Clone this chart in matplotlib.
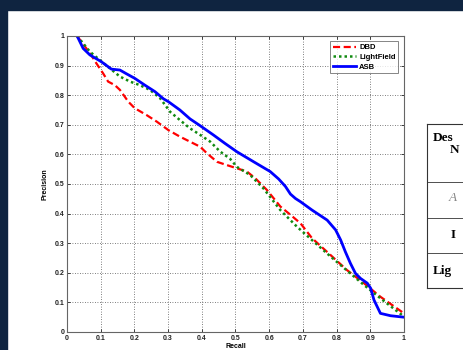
import matplotlib

matplotlib.use("Agg")
import matplotlib.pyplot as plt
from matplotlib.patches import Rectangle
from matplotlib.lines import Line2D

# precision / recall curves
dbd_recall = [0.03, 0.068, 0.087, 0.107, 0.122, 0.142, 0.157, 0.182, 0.201, 0.236, 0.266,
              0.301, 0.335, 0.365, 0.395, 0.415, 0.445, 0.474, 0.504, 0.534, 0.559, 0.593,
              0.633, 0.663, 0.693, 0.727, 0.782, 0.831, 0.881, 0.930, 1.0]
dbd_precision = [1.0, 0.942, 0.908, 0.874, 0.846, 0.834, 0.818, 0.778, 0.756, 0.733, 0.711,
                 0.682, 0.660, 0.643, 0.626, 0.604, 0.575, 0.564, 0.553, 0.542, 0.519, 0.480,
                 0.424, 0.396, 0.367, 0.317, 0.260, 0.209, 0.165, 0.119, 0.063]

lf_recall = [0.03, 0.068, 0.097, 0.127, 0.157, 0.187, 0.216, 0.246, 0.276, 0.306, 0.335,
             0.365, 0.395, 0.425, 0.454, 0.484, 0.504, 0.544, 0.583, 0.633, 0.683, 0.782,
             0.881, 0.930, 1.0]
lf_precision = [1.0, 0.947, 0.919, 0.891, 0.863, 0.846, 0.834, 0.818, 0.790, 0.744, 0.716,
                0.688, 0.666, 0.643, 0.610, 0.585, 0.558, 0.530, 0.485, 0.412, 0.355, 0.255,
                0.159, 0.114, 0.052]

asb_recall = [0.03, 0.048, 0.068, 0.102, 0.132, 0.157, 0.177, 0.201, 0.231, 0.261, 0.286,
              0.301, 0.335, 0.365, 0.395, 0.434, 0.469, 0.504, 0.554, 0.603, 0.628, 0.648,
              0.663, 0.678, 0.693, 0.727, 0.772, 0.797, 0.812, 0.826, 0.841, 0.856, 0.871,
              0.891, 0.901, 0.911, 0.930, 0.960, 1.0]
asb_precision = [1.0, 0.958, 0.936, 0.913, 0.888, 0.885, 0.872, 0.857, 0.834, 0.812, 0.788,
                 0.778, 0.750, 0.720, 0.697, 0.666, 0.637, 0.609, 0.575, 0.542, 0.517, 0.492,
                 0.466, 0.451, 0.440, 0.412, 0.378, 0.345, 0.311, 0.271, 0.232, 0.198, 0.181,
                 0.165, 0.148, 0.108, 0.063, 0.055, 0.050]

ticks = [0, 0.1, 0.2, 0.3, 0.4, 0.5, 0.6, 0.7, 0.8, 0.9, 1]
tick_labels = ["0", "0.1", "0.2", "0.3", "0.4", "0.5", "0.6", "0.7", "0.8", "0.9", "1"]

# what is visible of the slide table cut off by the right edge
table_head = ["Des", "N"]
table_rows = ["A", "I", "Lig"]

W, H = 463, 350
plt.rcParams["font.family"] = ["Liberation Sans", "DejaVu Sans"]

fig = plt.figure(figsize=(W / 100, H / 100), dpi=100, facecolor="white")

# dark slide background around the white page
navy = "#0f2440"
fig.patches.append(Rectangle((0, 0), 7 / W, 1, transform=fig.transFigure, color=navy, zorder=0))
fig.patches.append(Rectangle((0, 1 - 10 / H), 1, 10 / H, transform=fig.transFigure, color=navy, zorder=0))

ax = fig.add_axes([67 / W, (H - 332) / H, (404 - 67) / W, (332 - 36) / H])
ax.plot(dbd_recall, dbd_precision, color="#ff0000", linestyle=(0, (3.2, 1.6)), linewidth=1.6, label="DBD")
ax.plot(lf_recall, lf_precision, color="#108a10", linestyle=(0, (1, 1.2)), linewidth=1.8, label="LightField")
ax.plot(asb_recall, asb_precision, color="#0000ff", linestyle="-", linewidth=2.0, label="ASB")

ax.set_xlim(0, 1)
ax.set_ylim(0, 1)
ax.set_xticks(ticks)
ax.set_yticks(ticks)
ax.set_xticklabels(tick_labels, fontsize=5, fontweight="bold")
ax.set_yticklabels(tick_labels, fontsize=5, fontweight="bold")
ax.tick_params(direction="in", length=2, width=0.6, top=True, right=True, pad=2, colors="#222222")
ax.grid(True, linestyle=(0, (1, 2)), color="#555555", linewidth=0.6)
for sp in ax.spines.values():
    sp.set_color("#666666")
    sp.set_linewidth(0.8)
ax.set_xlabel("Recall", fontsize=5, fontweight="bold", labelpad=1)
ax.set_ylabel("Precision", fontsize=5, fontweight="bold", labelpad=4)

leg = ax.legend(loc="upper right", bbox_to_anchor=(0.983, 0.982), prop={"weight": "bold", "size": 5.5},
                frameon=True, fancybox=False, edgecolor="#666666", handlelength=3.0, handletextpad=0.4,
                borderpad=0.35, labelspacing=0.3, borderaxespad=0)
leg.get_frame().set_linewidth(0.7)

# clipped table at the right edge
x0 = 427 / W
line_ys = [124, 182, 218, 253, 288]
for y in line_ys:
    fig.lines.append(Line2D([x0, 1], [1 - y / H, 1 - y / H], transform=fig.transFigure,
                            color="#333333", linewidth=0.8 if y in (124, 288) else 0.6))
fig.lines.append(Line2D([x0, x0], [1 - 124 / H, 1 - 288 / H], transform=fig.transFigure,
                        color="#333333", linewidth=0.8))
serif = dict(family="Liberation Serif", fontsize=9.5, va="center", ha="left")
fig.text(433 / W, 1 - 138 / H, table_head[0], fontweight="bold", **serif)
fig.text(450 / W, 1 - 150 / H, table_head[1], fontweight="bold", **serif)
fig.text(449 / W, 1 - 198 / H, table_rows[0], style="italic", color="#888888", **serif)
fig.text(451 / W, 1 - 235 / H, table_rows[1], fontweight="bold", **serif)
fig.text(433 / W, 1 - 271 / H, table_rows[2], fontweight="bold", **serif)

fig.savefig("out.png", dpi=100, facecolor="white")
